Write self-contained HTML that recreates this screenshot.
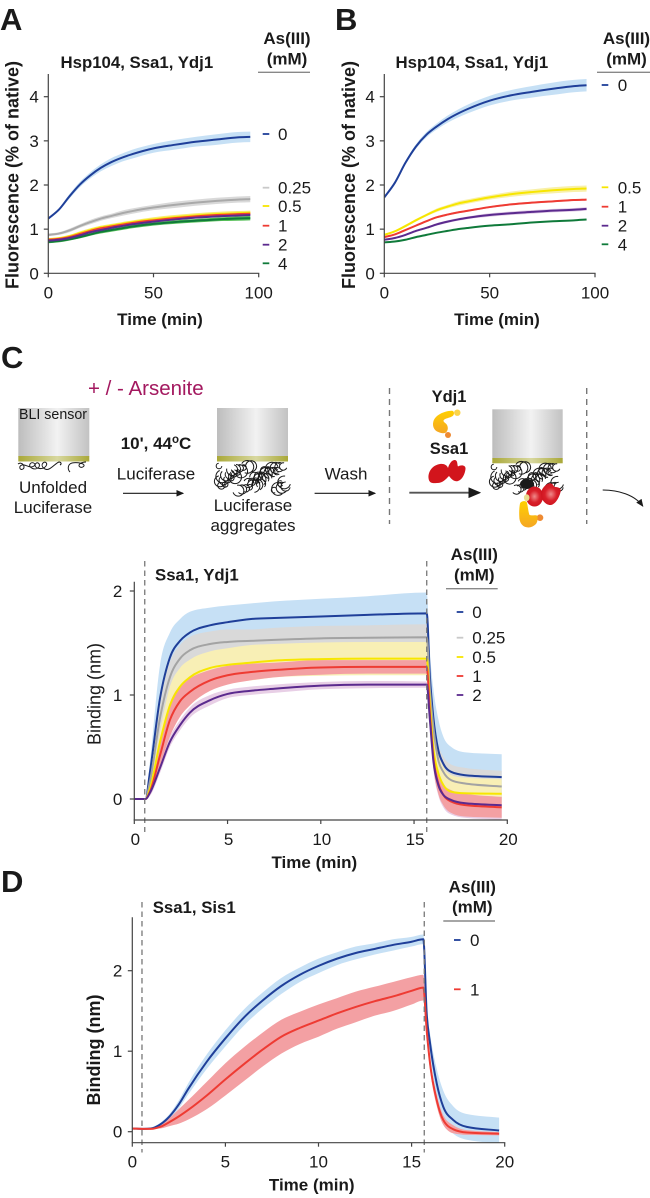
<!DOCTYPE html>
<html lang="en">
<head>
<meta charset="utf-8">
<title>Fluorescence and binding kinetics with arsenite</title>
<style>
html,body{margin:0;padding:0;background:#fff}
svg{display:block;font-family:"Liberation Sans",Arial,sans-serif;fill:#1a1a1a}
.letter{font-size:31px;font-weight:bold}
.bold{font-weight:bold}
.lab{font-size:17px}
.ylab{font-size:18px}
.ttl{font-size:16.8px;font-weight:bold}
.head{font-size:16.5px;font-weight:bold;text-anchor:middle}
.mid{text-anchor:middle}
</style>
</head>
<body>
<svg id="fig" xmlns="http://www.w3.org/2000/svg" width="650" height="1198" viewBox="0 0 650 1198">
<defs>
<linearGradient id="metal" x1="0" x2="1" y1="0" y2="0"><stop offset="0" stop-color="#bdbdbd"/><stop offset=".55" stop-color="#f2f2f2"/><stop offset="1" stop-color="#c2c2c2"/></linearGradient>
<linearGradient id="olive" x1="0" x2="1" y1="0" y2="0"><stop offset="0" stop-color="#a9a838"/><stop offset=".55" stop-color="#d8d8a0"/><stop offset="1" stop-color="#a9a838"/></linearGradient>
<linearGradient id="chap" x1="0" x2="0" y1="0" y2="1"><stop offset="0" stop-color="#ffd000"/><stop offset="1" stop-color="#f5a623"/></linearGradient>
<radialGradient id="hsp"><stop offset="0" stop-color="#f08a8a"/><stop offset=".6" stop-color="#d9202a"/><stop offset="1" stop-color="#cf1520"/></radialGradient>
<marker id="ah" markerWidth="7" markerHeight="6" refX="6" refY="3" orient="auto"><path d="M0,0 L7,3 L0,6 Z" fill="#1a1a1a"/></marker>
</defs>

<text class="letter" x="0" y="30">A</text>
<text class="letter" x="335" y="30">B</text>
<text class="letter" x="1" y="368">C</text>
<text class="letter" x="1" y="892">D</text>

<!-- Panel A text -->
<text class="ttl" x="60.5" y="68">Hsp104, Ssa1, Ydj1</text>
<text class="bold lab mid" x="287" y="44">As(III)</text>
<text class="bold lab mid" x="287" y="64.5">(mM)</text>
<line x1="258" x2="310" y1="72.3" y2="72.3" stroke="#888" stroke-width="1.4"/>
<text class="bold lab mid" x="160" y="325">Time (min)</text>
<text class="bold ylab mid" transform="translate(18.5,175) rotate(-90)">Fluorescence (% of native)</text>

<!-- Panel B text -->
<text class="ttl" x="395.5" y="68">Hsp104, Ssa1, Ydj1</text>
<text class="bold lab mid" x="626.5" y="44">As(III)</text>
<text class="bold lab mid" x="626.5" y="64.5">(mM)</text>
<line x1="597" x2="650" y1="72.3" y2="72.3" stroke="#888" stroke-width="1.4"/>
<text class="bold lab mid" x="497" y="325">Time (min)</text>
<text class="bold ylab mid" transform="translate(355,175) rotate(-90)">Fluorescence (% of native)</text>

<!-- Panel C schematic -->
<text x="88" y="395" font-size="20.5" style="fill:#a3185f">+ / - Arsenite</text>

<g>
<rect x="18.3" y="408" width="71" height="48.5" fill="url(#metal)"/>
<rect x="18.3" y="456" width="71" height="5.5" fill="url(#olive)"/>
</g>
<text x="19" y="419" font-size="15" textLength="68" lengthAdjust="spacingAndGlyphs">BLI sensor</text>
<g id="tangle1" fill="none" stroke="#1a1a1a" stroke-width="1">
<path d="M18,464c4,-3 8,3 5,5c-3,2 -5,-3 -1,-4c4,-1 8,4 12,1c3,-2 -2,-5 -4,-2c-2,4 6,7 9,3c2,-4 -3,-6 -4,-2c0,4 8,5 11,1c2,-3 -1,-5 -3,-3c-3,3 2,8 6,6c4,-2 7,-6 10,-7c2,0 3,2 1,3"/>
<path d="M70,472c-3,-3 -2,-8 2,-9c4,-1 9,0 11,1c3,2 -1,4 -3,3c-3,-2 1,-5 6,-5"/>
</g>
<text class="lab mid" x="53" y="493">Unfolded</text>
<text class="lab mid" x="53" y="513">Luciferase</text>

<text class="bold mid" font-size="17" x="156" y="449">10', 44<tspan font-size="11.5" dy="-6">o</tspan><tspan dy="6">C</tspan></text>
<text class="lab mid" x="156" y="479.5">Luciferase</text>
<line x1="123" x2="183" y1="493.3" y2="493.3" stroke="#1a1a1a" stroke-width="1.1" marker-end="url(#ah)"/>

<g>
<rect x="217" y="408" width="71" height="48.5" fill="url(#metal)"/>
<rect x="217" y="456" width="71" height="5.5" fill="url(#olive)"/>
</g>
<g id="tangle2" fill="none" stroke="#1a1a1a" stroke-width="1"></g>
<text class="lab mid" x="253" y="511">Luciferase</text>
<text class="lab mid" x="253" y="531">aggregates</text>

<text class="lab mid" x="346" y="479.5">Wash</text>
<line x1="314.6" x2="375" y1="493.3" y2="493.3" stroke="#1a1a1a" stroke-width="1.1" marker-end="url(#ah)"/>

<line x1="389.5" x2="389.5" y1="388" y2="524" stroke="#777" stroke-width="1.4" stroke-dasharray="6 5"/>
<line x1="586.7" x2="586.7" y1="388" y2="524" stroke="#777" stroke-width="1.4" stroke-dasharray="6 5"/>

<text class="head" x="449" y="402">Ydj1</text>
<g>
<circle cx="448" cy="435" r="3" fill="#ee8a33"/>
<path d="M451.7,410.7C444,411 435,415 433.3,421.7C432,427 435,431 438.3,432C441,433.5 445,433.5 446,432.5C448.5,430 448,427 447,425C446,423 443,422 443.5,420.5C445,418 450,418 452.7,416C455,414 454,410.5 451.7,410.7Z" fill="url(#chap)"/>
<circle cx="457.3" cy="412.7" r="3.2" fill="#fbd44a"/>
</g>
<text class="head" x="449" y="454">Ssa1</text>
<path d="M428.5,478C428,471 433,465 440,464C444,463.5 447,465 448,468C449,464 452,459.5 455,460C458,460.5 457,465 458,466.5C461,464.5 466,465 465.5,469C465,474 462,480 458,481C455,482 452,480 449,476C446,479 443,483 437,483C432,483.5 429,483 428.5,478Z" fill="#d2151c"/>
<line x1="409.3" x2="479.3" y1="492.7" y2="492.7" stroke="#555" stroke-width="1.8" marker-end="url(#ah)"/>

<g>
<rect x="492.3" y="409.3" width="70.4" height="49" fill="url(#metal)"/>
<rect x="492.3" y="458" width="70.4" height="5.3" fill="url(#olive)"/>
</g>
<g id="tangle3" fill="none" stroke="#1a1a1a" stroke-width="1"></g>
<g id="bound-ssa1">
<ellipse cx="534.5" cy="496.5" rx="8.6" ry="10" fill="url(#hsp)"/>
<path d="M541,494C541,489 546,483.5 550,483.3C553,483.3 553,486 555,487C558,487 561,488 560.7,491C560,496 556,504 551,505C546,505.5 541,500 541,494Z" fill="url(#hsp)"/>
</g>
<g id="bound-ydj1">
<circle cx="540" cy="517.7" r="3.3" fill="#ee8a33"/>
<path d="M520,503.5C521,501 525,500.5 526.7,502C528,506 528,511 529.5,515C532,516 535,514.5 537.3,515.7C538,519 537.5,522 536,524C533,527 529.5,528 526.7,527.3C522,526.5 519.3,522 519.3,516.7C519,512 519.3,507 520,503.5Z" fill="url(#chap)"/>
<ellipse cx="526.7" cy="497.7" rx="2.8" ry="3.5" fill="#e8dc90"/>
</g>
<path d="M602.7,490c16,0 32,5 40,16" fill="none" stroke="#1a1a1a" stroke-width="1.1" marker-end="url(#ah)"/>

<!-- Panel C chart text -->
<text class="ttl" x="155" y="580.5">Ssa1, Ydj1</text>
<text class="bold lab mid" x="474.3" y="560">As(III)</text>
<text class="bold lab mid" x="474.3" y="580.5">(mM)</text>
<line x1="446" x2="497.7" y1="588.7" y2="588.7" stroke="#888" stroke-width="1.4"/>
<text class="bold lab mid" x="314.3" y="868">Time (min)</text>
<text class="ylab mid" transform="translate(100.5,694) rotate(-90)">Binding (nm)</text>

<!-- Panel D chart text -->
<text class="ttl" x="152.7" y="913">Ssa1, Sis1</text>
<text class="bold lab mid" x="472.3" y="892.3">As(III)</text>
<text class="bold lab mid" x="472.3" y="912.7">(mM)</text>
<line x1="443.3" x2="495" y1="921" y2="921" stroke="#888" stroke-width="1.4"/>
<text class="bold lab mid" x="311.7" y="1190.5">Time (min)</text>
<text class="bold ylab mid" transform="translate(100,1050) rotate(-90)">Binding (nm)</text>
</svg>

<script>
/* ---------- shared time bases and tick labels ---------- */
var timeAB = [0,5,10,15,20,25,30,35,40,50,60,70,80,90,96];
var timeBLI_C = [0,.6,.84,1.38,1.91,2.45,2.98,4.06,5,6.2,7.5,10,12.5,15.68,15.85,16.03,16.3,16.57,17,17.7,19.7];
var timeBLI_D = [0,.6,1,1.5,2,2.5,3,4,5,6,7,8,9,10,11,12,13,14,15,15.63,15.81,15.99,16.35,16.7,17.24,17.96,19.7];
var xTicksAB = [0,50,100];
var yTicksAB = [0,1,2,3,4];
var xTicksBLI = [0,5,10,15,20];
var yTicksC = [0,1,2];
var yTicksD = [0,1,2];

/* ---------- Panel A ---------- */
var a0   = [1.24,1.44,1.74,2.01,2.22,2.39,2.52,2.62,2.7,2.83,2.91,2.98,3.03,3.08,3.09];
var a025 = [.87,.9,.97,1.07,1.16,1.24,1.3,1.36,1.41,1.49,1.55,1.6,1.64,1.67,1.68];
var a05  = [.77,.79,.84,.91,.98,1.04,1.08,1.12,1.16,1.22,1.27,1.31,1.34,1.36,1.37];
var a1   = [.76,.78,.82,.89,.96,1.02,1.06,1.1,1.14,1.2,1.25,1.29,1.32,1.34,1.35];
var a2   = [.74,.76,.8,.86,.93,.98,1.03,1.07,1.11,1.17,1.22,1.26,1.29,1.31,1.32];
var a4   = [.71,.73,.77,.82,.88,.94,.98,1.02,1.06,1.12,1.16,1.19,1.22,1.24,1.25];
var a0Err   = [.02,.03,.05,.06,.07,.08,.09,.09,.1,.1,.11,.11,.12,.12,.12];
var a025Err = [.03,.03,.04,.04,.05,.05,.05,.06,.06,.06,.07,.07,.07,.07,.07];
var a05Err  = [.03,.03,.03,.04,.04,.04,.04,.04,.04,.05,.05,.05,.05,.05,.05];
var a1Err   = [.02,.02,.02,.02,.03,.03,.03,.03,.03,.03,.03,.03,.03,.03,.03];
var a2Err   = [.02,.02,.02,.02,.02,.02,.02,.02,.02,.02,.02,.02,.02,.02,.02];
var a4Err   = [.03,.03,.03,.03,.03,.04,.04,.04,.04,.04,.04,.04,.04,.05,.05];

/* ---------- Panel B ---------- */
var b0  = [1.72,2.05,2.5,2.87,3.14,3.33,3.49,3.62,3.73,3.91,4.03,4.11,4.18,4.24,4.26];
var b05 = [.87,.95,1.07,1.2,1.32,1.43,1.51,1.58,1.63,1.72,1.79,1.84,1.88,1.91,1.92];
var b1  = [.82,.88,.98,1.08,1.18,1.27,1.33,1.38,1.42,1.5,1.56,1.6,1.63,1.66,1.67];
var b2  = [.76,.8,.87,.96,1.03,1.11,1.17,1.22,1.26,1.32,1.36,1.39,1.42,1.44,1.46];
var b4  = [.7,.72,.76,.82,.87,.92,.96,1,1.03,1.08,1.11,1.15,1.18,1.2,1.22];
var b0Err  = [.02,.03,.04,.05,.06,.07,.08,.09,.1,.11,.12,.13,.14,.14,.14];
var b05Err = [.02,.02,.03,.03,.03,.04,.04,.05,.05,.05,.06,.06,.07,.07,.07];
var b1Err  = [.01,.01,.01,.02,.02,.02,.02,.02,.02,.02,.02,.02,.02,.02,.02];
var b2Err  = [.01,.01,.02,.02,.02,.03,.03,.03,.03,.04,.04,.04,.04,.04,.04];
var b4Err  = [.01,.01,.01,.01,.01,.01,.01,.01,.01,.01,.01,.01,.01,.01,.01];

/* ---------- Panel C ---------- */
var c0   = [0,0,.26,.97,1.36,1.52,1.6,1.67,1.7,1.73,1.74,1.755,1.77,1.785,1.18,.79,.47,.34,.26,.23,.21];
var c025 = [0,0,.17,.78,1.17,1.35,1.43,1.49,1.51,1.52,1.53,1.545,1.55,1.555,1.05,.7,.375,.26,.18,.15,.12];
var c05  = [0,0,.1,.55,.9,1.08,1.17,1.26,1.29,1.31,1.33,1.345,1.35,1.35,.92,.5,.25,.135,.07,.055,.05];
var c1   = [0,0,.07,.42,.76,.94,1.03,1.14,1.19,1.22,1.24,1.265,1.27,1.27,.82,.41,.15,.04,-.025,-.058,-.08];
var c2   = [0,0,.06,.3,.55,.71,.83,.95,1.01,1.04,1.06,1.09,1.1,1.1,.76,.375,.135,.04,-.01,-.04,-.06];
var c0Err   = [0,0,.1,.32,.24,.21,.2,.17,.16,.15,.16,.17,.18,.2,.24,.28,.3,.26,.24,.22,.22];
var c025Err = [0,0,.05,.15,.15,.13,.13,.12,.12,.11,.115,.12,.12,.125,.13,.14,.15,.15,.15,.15,.15];
var c05Err  = [0,0,.03,.1,.18,.18,.17,.16,.16,.17,.16,.16,.16,.16,.16,.17,.17,.17,.16,.15,.14];
var c1Err   = [0,0,.03,.1,.16,.15,.13,.1,.09,.08,.07,.07,.065,.065,.08,.09,.1,.1,.11,.11,.1];
var c2Err   = [0,0,.03,.05,.05,.05,.05,.05,.04,.04,.04,.035,.035,.03,.06,.08,.1,.12,.14,.14,.14];

/* ---------- Panel D ---------- */
var d0 = [.04,.035,.04,.09,.19,.34,.53,.87,1.16,1.42,1.63,1.81,1.95,2.06,2.15,2.22,2.27,2.32,2.36,2.39,1.47,1.1,.6,.31,.145,.06,.015];
var d1 = [.04,.035,.035,.06,.12,.19,.27,.45,.65,.84,1.02,1.18,1.29,1.38,1.47,1.55,1.62,1.68,1.75,1.79,1.26,.85,.39,.145,.03,-.01,-.025];
var d0Err = [0,0,.01,.02,.03,.05,.07,.09,.1,.1,.1,.1,.09,.09,.08,.08,.07,.07,.06,.06,.08,.12,.18,.2,.17,.16,.16];
var d1Err = [0,0,0,.02,.05,.09,.12,.17,.2,.21,.21,.21,.2,.2,.19,.19,.18,.18,.17,.16,.1,.08,.07,.06,.05,.03,.02];

var NS = 'http://www.w3.org/2000/svg';
var svg = document.getElementById('fig');

function make(tag, attrs, parent) {
  var e = document.createElementNS(NS, tag);
  for (var k in attrs) e.setAttribute(k, attrs[k]);
  (parent || svg).appendChild(e);
  return e;
}

/* smooth monotone cubic path through points (works in either x direction) */
function curve(pts, cmd) {
  var n = pts.length, d = [], w = [], m = [], i;
  for (i = 0; i < n - 1; i++) {
    w[i] = (pts[i + 1][0] - pts[i][0]) || 1e-6;
    d[i] = (pts[i + 1][1] - pts[i][1]) / w[i];
  }
  m[0] = d[0]; m[n - 1] = d[n - 2];
  for (i = 1; i < n - 1; i++) {
    if (d[i - 1] * d[i] <= 0) { m[i] = 0; continue; }
    var a = (d[i - 1] * w[i] + d[i] * w[i - 1]) / (w[i - 1] + w[i]);
    var lim = 2 * Math.min(Math.abs(d[i - 1]), Math.abs(d[i]));
    m[i] = Math.abs(a) > lim ? (a > 0 ? lim : -lim) : a;
  }
  var s = cmd + pts[0][0].toFixed(2) + ',' + pts[0][1].toFixed(2);
  for (i = 0; i < n - 1; i++) {
    var h = w[i] / 3;
    s += 'C' + (pts[i][0] + h).toFixed(2) + ',' + (pts[i][1] + m[i] * h).toFixed(2) + ' ' +
         (pts[i + 1][0] - h).toFixed(2) + ',' + (pts[i + 1][1] - m[i + 1] * h).toFixed(2) + ' ' +
         pts[i + 1][0].toFixed(2) + ',' + pts[i + 1][1].toFixed(2);
  }
  return s;
}

function drawChart(c) {
  var g = make('g', {});
  
  
  var sx = function (v) { return c.x0 + (v - c.xMin) * (c.x1 - c.x0) / (c.xMax - c.xMin); };
  var sy = function (v) { return c.y0 + (v - c.yMin) * (c.y1 - c.y0) / (c.yMax - c.yMin); };

  var clipId = c.id + '-clip';
  var defs = make('clipPath', { id: clipId }, g);
  make('rect', { x: c.x0, y: 0, width: c.x1 - c.x0 + 5, height: c.clipBottom }, defs);
  var plot = make('g', { 'clip-path': 'url(#' + clipId + ')' }, g);

  c.bandOrder.forEach(function (idx) {
    var s = c.series[idx];
    var up = s.values.map(function (v, i) { return [sx(c.time[i]), sy(v + s.err[i])]; });
    var lo = s.values.map(function (v, i) { return [sx(c.time[i]), sy(v - s.err[i])]; }).reverse();
    var band = make('path', { d: curve(up, 'M') + curve(lo, 'L') + 'Z', fill: s.band, stroke: 'none' }, plot);
    
    
  });
  c.lineOrder.forEach(function (idx) {
    var s = c.series[idx];
    var pts = s.values.map(function (v, i) { return [sx(c.time[i]), sy(v)]; });
    var line = make('path', { d: curve(pts, 'M'), fill: 'none', stroke: s.color, 'stroke-width': c.lw, 'stroke-linejoin': 'round' }, plot);
    
    
  });

  if (c.dashes) {
    c.dashes.forEach(function (t) {
      var dash = make('line', { x1: sx(t), x2: sx(t), y1: c.dashTop, y2: c.dashBottom, stroke: '#777', 'stroke-width': 1.3, 'stroke-dasharray': '5.5 4' }, g);
      
      
    });
  }

  var ax = '#444';
  var xAxis = make('line', { x1: c.x0 - .6, x2: c.x1 + .6, y1: c.axisY, y2: c.axisY, stroke: ax, 'stroke-width': 1.2 }, g);
  
  
  var yAxis = make('line', { x1: c.x0, x2: c.x0, y1: c.axisTop, y2: c.axisY, stroke: ax, 'stroke-width': 1.2 }, g);
  
  

  c.xTicks.forEach(function (t) {
    var tk = make('line', { x1: sx(t), x2: sx(t), y1: c.axisY, y2: c.axisY + 4, stroke: ax, 'stroke-width': 1.2 }, g);
    
    
    var lb = make('text', { x: sx(t) + (c.xLabelShift || 0), y: c.xLabelY, 'font-size': 17, 'text-anchor': 'middle' }, g);
    lb.textContent = t;
    
    
  });
  c.yTicks.forEach(function (t) {
    var tk = make('line', { x1: c.x0 - 4.5, x2: c.x0, y1: sy(t), y2: sy(t), stroke: ax, 'stroke-width': 1.2 }, g);
    
    
    var lb = make('text', { x: c.x0 - c.yLabelGap, y: sy(t) + 6, 'font-size': 17, 'text-anchor': 'end' }, g);
    lb.textContent = t;
    
    
  });

  c.series.forEach(function (s, i) {
    var ly = c.legendY[i];
    var entry = make('g', {}, g);
    
    
    make('line', { x1: c.legendX, x2: c.legendX + 6.6, y1: ly, y2: ly, stroke: s.key || s.color, 'stroke-width': 1.8 }, entry);
    var t = make('text', { x: c.legendX + c.legendGap, y: ly + 6, 'font-size': 17 }, entry);
    t.textContent = s.name;
  });
}

drawChart({
  id: 'panel-a', time: timeAB, x0: 48.3, x1: 258.7, xMin: 0, xMax: 100, y0: 273.3, y1: 96.7, yMin: 0, yMax: 4,
  axisY: 273.3, axisTop: 74, clipBottom: 273, xTicks: xTicksAB, yTicks: yTicksAB, xLabelY: 298.5, yLabelGap: 9.5,
  legendX: 262.7, legendGap: 15.3, legendY: [134, 187.7, 206, 225.7, 244.7, 263.3],
  bandOrder: [0, 1, 5, 2, 3, 4], lineOrder: [0, 1, 5, 2, 3, 4], lw: 2,
  series: [
    { name: '0', values: a0, err: a0Err, color: '#1f3f99', band: '#c6e0f5' },
    { name: '0.25', values: a025, err: a025Err, color: '#a9a9a9', band: '#d9d9d9', key: '#c9c9c9' },
    { name: '0.5', values: a05, err: a05Err, color: '#f7e600', band: '#f8ec70' },
    { name: '1', values: a1, err: a1Err, color: '#ee3b33', band: '#f3a0a3' },
    { name: '2', values: a2, err: a2Err, color: '#5b2a8e', band: '#c9a9d5' },
    { name: '4', values: a4, err: a4Err, color: '#0f7a3a', band: '#58c05a' }
  ]
});

drawChart({
  id: 'panel-b', time: timeAB, x0: 384.3, x1: 595, xMin: 0, xMax: 100, y0: 273.3, y1: 96.7, yMin: 0, yMax: 4,
  axisY: 273.3, axisTop: 74, clipBottom: 273, xTicks: xTicksAB, yTicks: yTicksAB, xLabelY: 298.5, yLabelGap: 9.5,
  legendX: 601.7, legendGap: 16, legendY: [85, 187.3, 206.7, 225.7, 244.3],
  bandOrder: [0, 1, 2, 3, 4], lineOrder: [0, 1, 2, 3, 4], lw: 2,
  series: [
    { name: '0', values: b0, err: b0Err, color: '#1f3f99', band: '#c6e0f5' },
    { name: '0.5', values: b05, err: b05Err, color: '#f7e600', band: '#f8f0a8' },
    { name: '1', values: b1, err: b1Err, color: '#ee3b33', band: '#f3a0a3' },
    { name: '2', values: b2, err: b2Err, color: '#5b2a8e', band: '#e0cbe6' },
    { name: '4', values: b4, err: b4Err, color: '#0f7a3a', band: '#a8d8a8' }
  ]
});

drawChart({
  id: 'panel-c', time: timeBLI_C, x0: 134.3, x1: 507.3, xMin: 0, xMax: 20, y0: 799, y1: 591, yMin: 0, yMax: 2,
  axisY: 820, axisTop: 581.7, clipBottom: 820, xTicks: xTicksBLI, yTicks: yTicksC, xLabelY: 845, xLabelShift: 1, yLabelGap: 12,
  dashes: [.56, 15.68], dashTop: 561, dashBottom: 832,
  legendX: 456.7, legendGap: 15.6, legendY: [612, 637.7, 657, 676, 695],
  bandOrder: [0, 1, 4, 2, 3], lineOrder: [0, 1, 2, 3, 4], lw: 2,
  series: [
    { name: '0', values: c0, err: c0Err, color: '#1f3f99', band: '#c6e0f5' },
    { name: '0.25', values: c025, err: c025Err, color: '#a3a3a3', band: '#d9d9d9', key: '#c9c9c9' },
    { name: '0.5', values: c05, err: c05Err, color: '#f7e600', band: '#f8efb5' },
    { name: '1', values: c1, err: c1Err, color: '#ee3b33', band: '#f3a0a3' },
    { name: '2', values: c2, err: c2Err, color: '#5b2a8e', band: '#e8cfe6' }
  ]
});

drawChart({
  id: 'panel-d', time: timeBLI_D, x0: 132.3, x1: 504.7, xMin: 0, xMax: 20, y0: 1131.7, y1: 970.7, yMin: 0, yMax: 2,
  axisY: 1142.7, axisTop: 917.3, clipBottom: 1142.5, xTicks: xTicksBLI, yTicks: yTicksD, xLabelY: 1167.5, yLabelGap: 10,
  dashes: [.52, 15.68], dashTop: 902, dashBottom: 1152.5,
  legendX: 454, legendGap: 16, legendY: [940, 989.3],
  bandOrder: [0, 1], lineOrder: [0, 1], lw: 2,
  series: [
    { name: '0', values: d0, err: d0Err, color: '#1f3f99', band: '#c6e0f5' },
    { name: '1', values: d1, err: d1Err, color: '#ee3b33', band: '#f3a0a3' }
  ]
});

/* ---------- schematic strand tangles: open curls scattered over a region ---------- */
function tangle(id, left, top, w, h, count) {
  var parent = document.getElementById(id);
  var s = '';
  for (var i = 0; i < count; i++) {
    var cx = left + w * ((i * 0.618034) % 1);
    var cy = top + h * Math.pow((i * 0.754878) % 1, 1.2);
    var r = 2.8 + (i * 7 % 5) * 0.9;
    var a = i * 2.4;
    var ex = cx + r * Math.cos(a), ey = cy + r * Math.sin(a);
    var fx = cx + r * Math.cos(a + 4.6), fy = cy + r * Math.sin(a + 4.6);
    s += 'M' + ex.toFixed(1) + ',' + ey.toFixed(1) + 'A' + r.toFixed(1) + ',' + r.toFixed(1) + ' 0 1 1 ' + fx.toFixed(1) + ',' + fy.toFixed(1);
  }
  make('path', { d: s }, parent);
}
tangle('tangle2', 219, 466, 68, 25, 52);
tangle('tangle3', 494, 467, 66, 24, 48);
var core = document.getElementById('tangle3');
make('ellipse', { cx: 527, cy: 484, rx: 7, ry: 5, fill: '#1a1a1a', stroke: 'none' }, core);
svg.appendChild(document.getElementById('bound-ssa1'));
svg.appendChild(document.getElementById('bound-ydj1'));
</script>
</body>
</html>
